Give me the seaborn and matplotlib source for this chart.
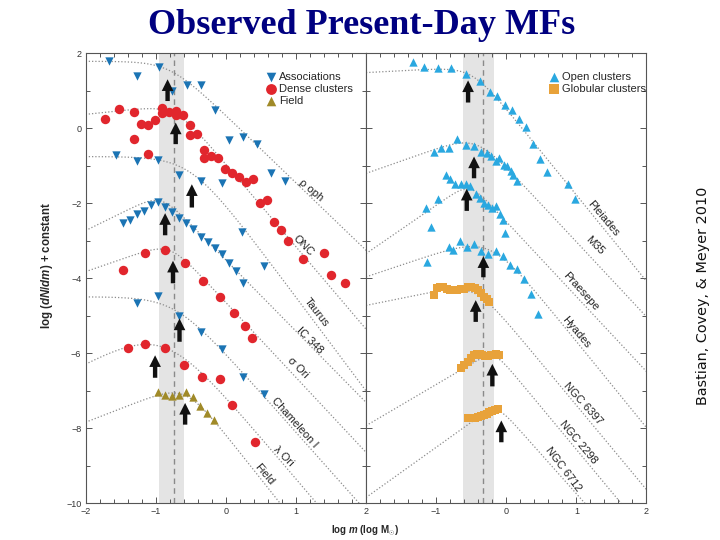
import numpy as np
import pandas as pd
import seaborn as sns
import matplotlib.pyplot as plt

# ---------- left panel: young clusters / associations / field ----------
oph_m = [-1.666, -1.262, -0.958, -0.763, -0.56, -0.36, -0.157, 0.043, 0.242, 0.446, 0.646, 0.85]
oph_n = [1.79, 1.39, 1.64, 0.975, 1.14, 1.14, 0.485, -0.317, -0.228, -0.433, -1.21, -1.41]
tau_m = [-1.566, -1.262, -0.963, -0.664, -0.36, -0.061, 0.237, 0.546]
tau_n = [-0.727, -0.879, -0.852, -1.26, -1.40, -1.46, -2.78, -3.67]
ic_m = [-1.466, -1.366, -1.262, -1.167, -1.063, -0.963, -0.868, -0.763, -0.664,
        -0.564, -0.465, -0.36, -0.26, -0.16, -0.061, 0.043, 0.143, 0.246]
ic_n = [-2.545, -2.465, -2.28, -2.20, -2.055, -1.966, -2.10, -2.23, -2.39,
        -2.53, -2.69, -2.90, -3.04, -3.21, -3.36, -3.60, -3.80, -4.13]
cha_m = [-1.262, -0.963, -0.664, -0.36, -0.061, 0.242, 0.541]
cha_n = [-4.67, -4.49, -5.01, -5.43, -5.90, -6.63, -7.10]

onc_m = [-1.717, -1.518, -1.314, -1.314, -1.214, -1.115, -1.115, -1.015, -0.916, -0.91,
         -0.81, -0.712, -0.71, -0.612, -0.512, -0.512, -0.413, -0.313, -0.313, -0.209,
         -0.11, -0.01, 0.09, 0.19, 0.29, 0.39, 0.49, 0.593, 0.693, 0.793, 0.893, 1.096,
         1.40, 1.50, 1.699]
onc_n = [0.235, 0.52, 0.43, -0.30, 0.12, 0.09, -0.68, 0.22, 0.53, 0.41,
         0.43, 0.46, 0.34, 0.34, 0.075, -0.18, -0.165, -0.585, -0.81, -0.745,
         -0.79, -1.10, -1.21, -1.31, -1.43, -1.35, -1.99, -1.92, -2.50, -2.72, -3.0, -3.49,
         -3.33, -3.91, -4.12]
sig_m = [-1.46, -1.149, -0.863, -0.583, -0.322, -0.076, 0.114, 0.27, 0.37]
sig_n = [-3.78, -3.33, -3.26, -3.61, -4.09, -4.51, -4.92, -5.28, -5.61]
lam_m = [-1.40, -1.149, -0.873, -0.598, -0.337, -0.085, 0.086, 0.418]
lam_n = [-5.87, -5.76, -5.87, -6.32, -6.63, -6.69, -7.39, -8.37]
fld_m = [-0.973, -0.868, -0.768, -0.664, -0.564, -0.465, -0.365, -0.265, -0.165]
fld_n = [-7.05, -7.11, -7.14, -7.11, -7.04, -7.16, -7.40, -7.61, -7.79]

# ---------- right panel: open / globular clusters ----------
ple_m = [-1.336, -1.17, -0.971, -0.791, -0.568, -0.378, -0.236, -0.127, -0.023, 0.077,
         0.176, 0.28, 0.376, 0.475, 0.575, 0.878, 0.987]
ple_n = [1.77, 1.63, 1.59, 1.61, 1.43, 1.25, 0.966, 0.86, 0.627, 0.485,
         0.25, 0.04, -0.42, -0.82, -1.17, -1.48, -1.89]
m35_m = [-1.037, -0.933, -0.815, -0.696, -0.578, -0.459, -0.355, -0.279, -0.222, -0.151,
         -0.103, -0.032, 0.015, 0.063, 0.10, 0.157]
m35_n = [-0.64, -0.52, -0.52, -0.30, -0.44, -0.48, -0.64, -0.67, -0.745, -0.88,
         -0.79, -0.995, -1.01, -1.15, -1.24, -1.41]
pra_m = [-1.137, -1.075, -0.98, -0.862, -0.80, -0.729, -0.649, -0.578, -0.516, -0.435,
         -0.378, -0.317, -0.26, -0.198, -0.151, -0.089, -0.046, -0.023]
pra_n = [-2.14, -2.63, -1.89, -1.24, -1.35, -1.48, -1.48, -1.48, -1.55, -1.75,
         -1.86, -1.99, -2.06, -2.14, -2.08, -2.28, -2.44, -2.81]
hya_m = [-1.123, -0.815, -0.758, -0.663, -0.563, -0.459, -0.355, -0.255, -0.151, -0.046,
         0.048, 0.148, 0.252, 0.356, 0.46]
hya_n = [-3.58, -3.17, -3.24, -3.00, -3.17, -3.08, -3.29, -3.37, -3.29, -3.40,
         -3.65, -3.76, -4.02, -4.43, -4.96]
g1_m = [-1.03, -0.99, -0.95, -0.90, -0.85, -0.80, -0.75, -0.70, -0.65, -0.60, -0.55,
        -0.50, -0.45, -0.40, -0.36, -0.32, -0.28, -0.25]
g1_n = [-4.46, -4.26, -4.23, -4.25, -4.29, -4.31, -4.33, -4.33, -4.30, -4.28, -4.25,
        -4.25, -4.27, -4.33, -4.40, -4.50, -4.57, -4.63]
g2_m = [-0.65, -0.60, -0.55, -0.50, -0.46, -0.42, -0.38, -0.34, -0.30, -0.26, -0.22,
        -0.18, -0.14, -0.11]
g2_n = [-6.40, -6.33, -6.23, -6.12, -6.05, -6.02, -6.02, -6.04, -6.07, -6.07, -6.06,
        -6.04, -6.02, -6.06]
g3_m = [-0.55, -0.50, -0.45, -0.40, -0.36, -0.32, -0.28, -0.24, -0.20, -0.16, -0.12]
g3_n = [-7.74, -7.73, -7.72, -7.71, -7.69, -7.66, -7.62, -7.58, -7.55, -7.52, -7.50]

# fitted mass functions: knee mass, knee level, low / high mass slope, bend width
left_fit = {
    'knee_m': [-0.8, -0.72, -0.5, -0.93, -0.8, -0.72, -0.9, -0.58],
    'knee_n': [1.78, 0.62, -0.76, -1.75, -3.05, -4.5, -5.175, -6.81],
    'lo': [0.0, 0.2, 0.0, 0.92, 0.65, 0.0, 1.0, 0.73],
    'hi': [-1.8, -2.2, -2.5, -1.9, -2.0, -2.1, -2.2, -2.36],
    'bend': [0.2, 0.15, 0.25, 0.1, 0.12, 0.25, 0.3, 0.15],
}
right_fit = {
    'knee_m': [-0.485, -0.43, -0.524, -0.232, -0.446, -0.174, -0.139],
    'knee_n': [1.63, -0.174, -1.446, -2.856, -4.14, -5.93, -7.36],
    'lo': [0.1, 0.66, 1.29, 0.63, 0.38, 1.1, 1.34],
    'hi': [-2.3, -2.0, -2.0, -2.3, -2.25, -2.25, -2.1],
    'bend': [0.15, 0.15, 0.08, 0.2, 0.15, 0.07, 0.07],
}

left_names = ['ρ oph', 'ONC', 'Taurus', 'IC 348', 'σ Ori', 'Chameleon I', 'λ Ori', 'Field']
left_lab_m = [1.22, 1.10, 1.29, 1.196, 1.03, 0.98, 0.816, 0.555]
left_lab_n = [-1.65, -3.13, -4.91, -5.66, -6.38, -7.85, -8.74, -9.23]
left_lab_rot = [-40, -45, -52, -45, -45, -48, -45, -50]
right_names = ['Pleiades', 'M35', 'Praesepe', 'Hyades', 'NGC 6397', 'NGC 2298', 'NGC 6712']
right_lab_m = [1.381, 1.262, 1.058, 1.0, 1.096, 1.025, 0.81]
right_lab_n = [-2.41, -3.13, -4.36, -5.44, -7.36, -8.38, -9.1]
right_lab_rot = [-50, -45, -48, -50, -48, -50, -53]

# characteristic mass arrows (mass, tip, tail)
left_arrow_m = [-0.83, -0.714, -0.484, -0.865, -0.753, -0.66, -1.008, -0.58]
left_arrow_top = [1.30, 0.146, -1.50, -2.27, -3.54, -5.08, -6.06, -7.33]
left_arrow_bot = [0.72, -0.43, -2.12, -2.86, -4.14, -5.70, -6.66, -7.91]
right_arrow_m = [-0.544, -0.459, -0.563, -0.326, -0.435, -0.198, -0.07]
right_arrow_top = [1.27, -0.76, -1.62, -3.42, -4.59, -6.29, -7.80]
right_arrow_bot = [0.68, -1.34, -2.21, -3.98, -5.17, -6.89, -8.38]

left_band = (-0.947, -0.597, -0.745)
right_band = (-0.61, -0.172, -0.332)


def mf_curve(m, knee_m, knee_n, lo, hi, bend):
    return knee_n + lo * (m - knee_m) + (hi - lo) * bend * np.logaddexp(0, (m - knee_m) / bend)


def frame(ms, ns, kind):
    return pd.DataFrame({'m': ms, 'n': ns, 'kind': kind})


sns.set_theme(style='ticks')
plt.rcParams['font.family'] = ['Liberation Sans', 'DejaVu Sans']
plt.rcParams['mathtext.fontset'] = 'custom'
plt.rcParams['mathtext.rm'] = 'Liberation Sans:bold'
plt.rcParams['mathtext.it'] = 'Liberation Sans:bold:italic'

fig = plt.figure(figsize=(7.2, 5.4), dpi=100)
ax_l = fig.add_axes([0.1188, 0.0685, 0.3896, 0.8333])
ax_r = fig.add_axes([0.5083, 0.0685, 0.3896, 0.8333])

curve_m = np.linspace(-2, 2.2, 500)

styles = {
    'Associations': dict(marker='v', color='#1b74b4', s=36),
    'Dense clusters': dict(marker='o', color='#e1262d', s=46),
    'Field': dict(marker='^', color='#a08a28', s=36),
    'Open clusters': dict(marker='^', color='#2aa8e0', s=36),
    'Globular clusters': dict(marker='s', color='#e8a23a', s=40),
}

panels = [
    (ax_l, left_fit, left_band, left_names, left_lab_m, left_lab_n, left_lab_rot,
     left_arrow_m, left_arrow_top, left_arrow_bot,
     [('Associations', [(oph_m, oph_n), (tau_m, tau_n), (ic_m, ic_n), (cha_m, cha_n)]),
      ('Dense clusters', [(onc_m, onc_n), (sig_m, sig_n), (lam_m, lam_n)]),
      ('Field', [(fld_m, fld_n)])], 0.63),
    (ax_r, right_fit, right_band, right_names, right_lab_m, right_lab_n, right_lab_rot,
     right_arrow_m, right_arrow_top, right_arrow_bot,
     [('Open clusters', [(ple_m, ple_n), (m35_m, m35_n), (pra_m, pra_n), (hya_m, hya_n)]),
      ('Globular clusters', [(g1_m, g1_n), (g2_m, g2_n), (g3_m, g3_n)])], 0.64),
]

for (ax, fit, band, names, lab_m, lab_n, lab_rot, a_m, a_top, a_bot, groups, leg_x) in panels:
    ax.axvspan(band[0], band[1], color='#e4e4e4', lw=0, zorder=0)
    ax.axvline(band[2], color='#8a8a8a', lw=1.0, ls=(0, (4, 3)), zorder=1)

    for i in range(len(fit['knee_m'])):
        yy = mf_curve(curve_m, fit['knee_m'][i], fit['knee_n'][i], fit['lo'][i],
                      fit['hi'][i], fit['bend'][i])
        sns.lineplot(x=curve_m, y=yy, ax=ax, color='#8c8c8c', lw=0.9,
                     ls=(0, (1, 1.6)), zorder=1, sort=False)

    for kind, sets in groups:
        df = pd.concat([frame(ms, ns, kind) for ms, ns in sets], ignore_index=True)
        st = styles[kind]
        sns.scatterplot(data=df, x='m', y='n', ax=ax, marker=st['marker'], color=st['color'],
                        s=st['s'], linewidth=0, label=kind, zorder=3)

    for x, top, bot in zip(a_m, a_top, a_bot):
        ax.annotate('', xy=(x, top), xytext=(x, bot), zorder=4,
                    arrowprops=dict(arrowstyle='simple,head_width=0.8,head_length=0.8,tail_width=0.3',
                                    color='#111111', mutation_scale=10.5, shrinkA=0, shrinkB=0, lw=0))

    for name, x, y, rot in zip(names, lab_m, lab_n, lab_rot):
        ax.text(x, y, name, rotation=rot, rotation_mode='anchor', ha='center', va='center',
                fontsize=8, color='#222222', zorder=2)

    ax.legend(loc='upper left', bbox_to_anchor=(leg_x, 0.963), frameon=False, fontsize=8,
              handletextpad=0.1, labelspacing=0.2, borderpad=0.2, handlelength=1.2,
              borderaxespad=0, markerscale=1.15)

    ax.set_xlim(-2, 2)
    ax.set_ylim(-10, 2)
    ax.set_xticks([-2, -1, 0, 1, 2])
    ax.set_xticks(np.arange(-2, 2.01, 0.2), minor=True)
    ax.set_yticks([2, 0, -2, -4, -6, -8, -10])
    ax.set_yticks([1, -1, -3, -5, -7, -9], minor=True)
    ax.tick_params(which='both', direction='in', top=True, right=True, color='#555555',
                   labelsize=6.5, labelcolor='#333333', width=0.7, pad=3)
    ax.tick_params(which='major', length=4)
    ax.tick_params(which='minor', length=3)
    ax.set_xlabel('')
    ax.set_ylabel('')
    for sp in ax.spines.values():
        sp.set_color('#555555')
        sp.set_linewidth(0.8)

ax_r.set_yticklabels([])
ax_r.set_xticklabels(['', '\u22121', '0', '1', '2'])

ax_l.set_ylabel('log ($dN/dm$) + constant', fontsize=8.3, fontweight='bold')
ax_l.yaxis.set_label_coords(-0.108, 0.527)
fig.text(0.507, 0.017, 'log $m$ (log M$_{\\odot}$)', ha='center', va='center',
         fontsize=7, fontweight='bold')

fig.text(0.502, 0.952, 'Observed Present-Day MFs', ha='center', va='center',
         fontsize=26, fontweight='bold', color='#000080', family='Liberation Serif')
fig.text(0.976, 0.453, 'Bastian, Covey, & Meyer 2010', rotation=90, ha='center',
         va='center', fontsize=10.4, family='DejaVu Sans', color='#111111')

fig.savefig('out.png', dpi=100)
